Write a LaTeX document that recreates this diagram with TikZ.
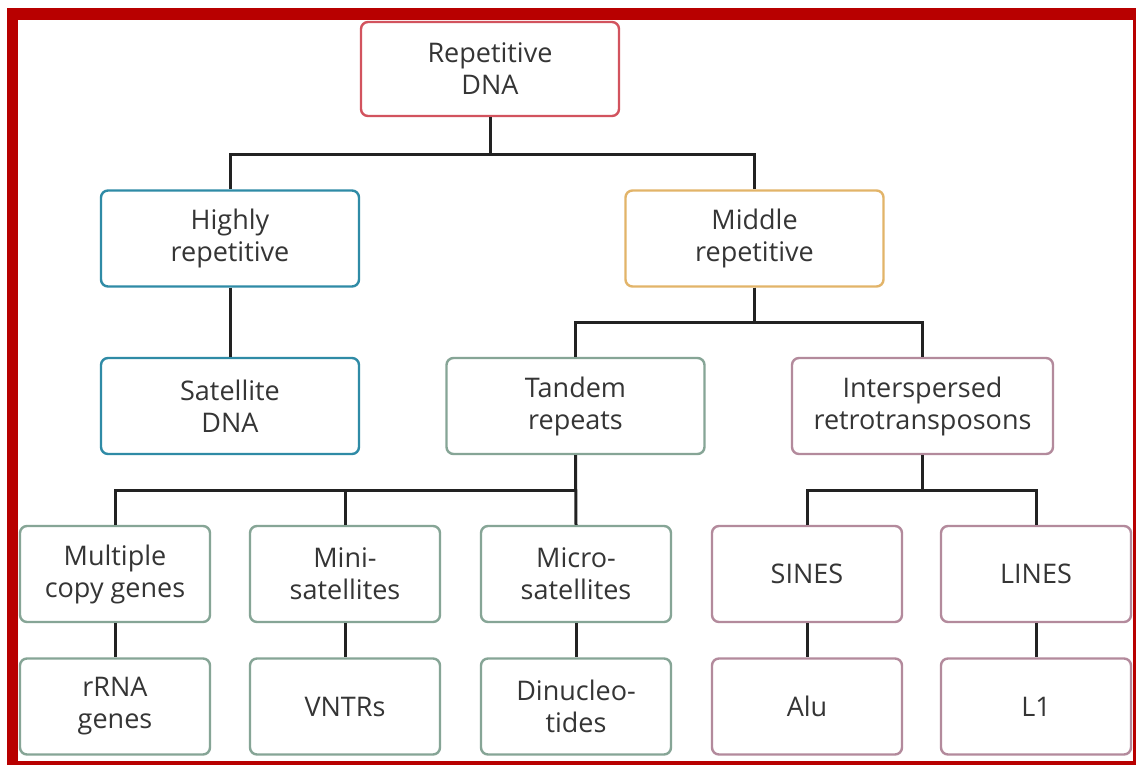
\documentclass[tikz,border=0pt]{standalone}
\usepackage{fontspec}
\setmainfont{Open Sans}
\definecolor{framered}{HTML}{B80000}
\definecolor{repc}{HTML}{D2535E}
\definecolor{bluec}{HTML}{2F8BA6}
\definecolor{goldc}{HTML}{E2B469}
\definecolor{greenc}{HTML}{86A596}
\definecolor{mauvec}{HTML}{B38A9C}
\definecolor{linec}{HTML}{222222}
\definecolor{txtc}{HTML}{353535}
\begin{document}
\begin{tikzpicture}[x=1pt,y=-1pt,
  box/.style={draw, line width=2.4pt, rounded corners=7pt, fill=white,
    minimum height=96pt, inner sep=0pt, align=center, text=txtc,
    font=\fontsize{27}{32}\selectfont},
  bigbox/.style={box, minimum width=258pt},
  smallbox/.style={box, minimum width=190pt},
  link/.style={draw=linec, line width=3pt}]
\useasboundingbox (0,0) rectangle (1136,765);
% frame
\fill[framered] (7,8) rectangle (1136,765);
\fill[white] (18,20) rectangle (1133,761);
% nodes
\node[bigbox, draw=repc, minimum height=94pt] (rep) at (490,69) {Repetitive\\DNA};
\node[bigbox, draw=bluec] (high) at (230,238.5) {Highly\\repetitive};
\node[bigbox, draw=goldc] (mid) at (754.5,238.5) {Middle\\repetitive};
\node[bigbox, draw=bluec] (sat) at (230,406) {Satellite\\DNA};
\node[bigbox, draw=greenc] (tand) at (575.5,406) {Tandem\\repeats};
\node[bigbox, draw=mauvec, minimum width=261pt] (inter) at (922.5,406) {Interspersed\\retrotransposons};
\node[smallbox, draw=greenc] (multi) at (115,574) {Multiple\\copy genes};
\node[smallbox, draw=greenc] (mini) at (345,574) {Mini-\\satellites};
\node[smallbox, draw=greenc] (micro) at (576,574) {Micro-\\satellites};
\node[smallbox, draw=mauvec] (sines) at (807,574) {SINES};
\node[smallbox, draw=mauvec] (lines) at (1036,574) {LINES};
\node[smallbox, draw=greenc] (rrna) at (115,706.5) {rRNA\\genes};
\node[smallbox, draw=greenc] (vntr) at (345,706.5) {VNTRs};
\node[smallbox, draw=greenc] (dinuc) at (576,706.5) {Dinucleo-\\tides};
\node[smallbox, draw=mauvec] (alu) at (807,706.5) {Alu};
\node[smallbox, draw=mauvec] (lone) at (1036,706.5) {L1};
% connectors
\draw[link] (rep.south) -- ++(0,37) -| (high.north);
\draw[link] (rep.south) -- ++(0,37) -| (mid.north);
\draw[link] (high.south) -- (sat.north);
\draw[link] (mid.south) -- ++(0,35) -| (tand.north);
\draw[link] (mid.south) -- ++(0,35) -| (inter.north);
\draw[link] (tand.south) -- ++(0,35) -| (multi.north);
\draw[link] (tand.south) -- ++(0,35) -| (mini.north);
\draw[link] (tand.south) -- (micro.north);
\draw[link] (inter.south) -- ++(0,35) -| (sines.north);
\draw[link] (inter.south) -- ++(0,35) -| (lines.north);
\draw[link] (multi.south) -- (rrna.north);
\draw[link] (mini.south) -- (vntr.north);
\draw[link] (micro.south) -- (dinuc.north);
\draw[link] (sines.south) -- (alu.north);
\draw[link] (lines.south) -- (lone.north);
\end{tikzpicture}
\end{document}
